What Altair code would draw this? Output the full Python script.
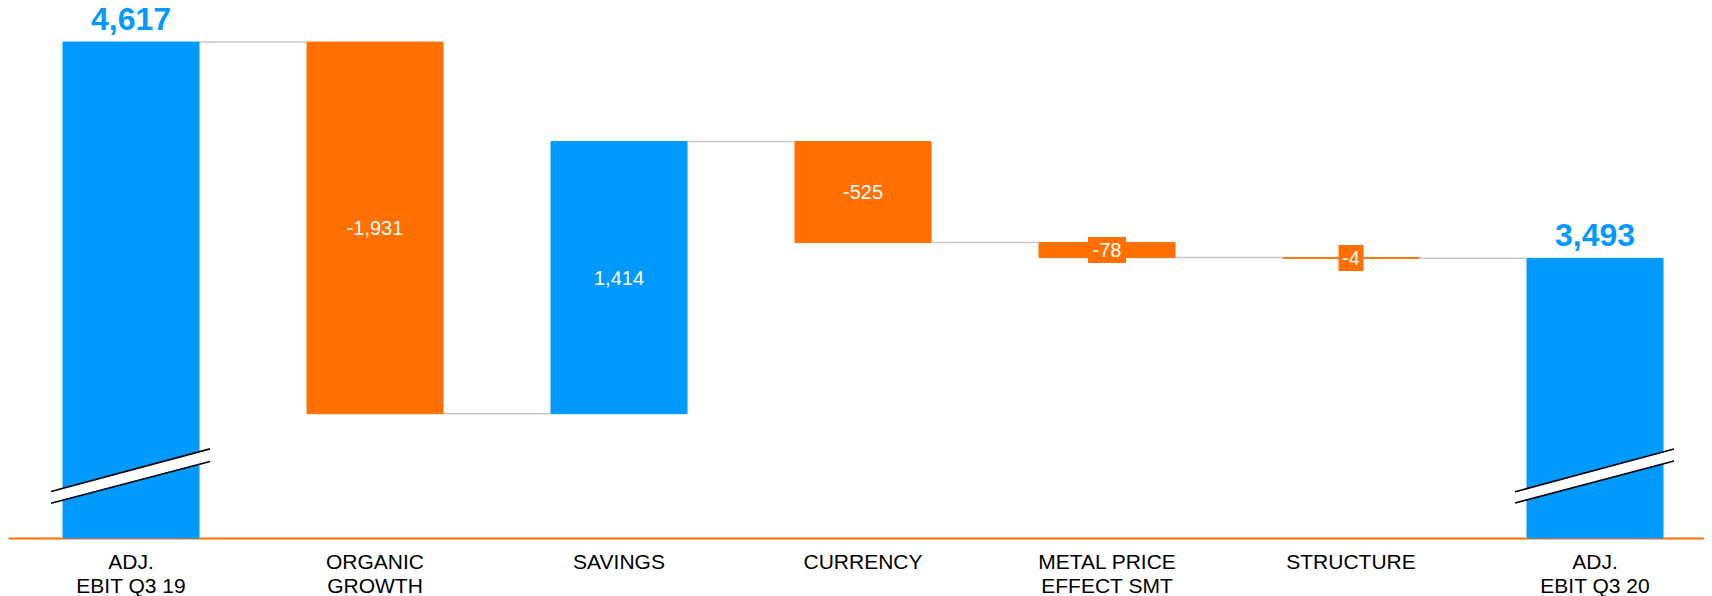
import altair as alt
import pandas as pd

# ---------------- data ----------------
categories = [
    "ADJ.|EBIT Q3 19",
    "ORGANIC| GROWTH",
    "SAVINGS",
    "CURRENCY",
    "METAL PRICE|EFFECT SMT",
    "STRUCTURE",
    "ADJ.|EBIT Q3 20",
]
values = [4617, -1931, 1414, -525, -78, -4, 3493]
is_total = [True, False, False, False, False, False, True]

# broken value axis: visible range of the value scale
axis_floor = 2040
axis_ceiling = 4794

# axis-break marks drawn across the two total bars (value levels at left / right end)
break_categories = [categories[0], categories[6]]
break_upper_left = [2282, 2280]
break_upper_right = [2503, 2502]
break_lower_left = [2221, 2222]
break_lower_right = [2438, 2440]

# ---------------- styles ----------------
blue = "#0099FF"
orange = "#FF7000"
grey = "#C8C8C8"
font = "Liberation Sans"

# ---------------- derived tables ----------------
rows = []
running = 0
for cat, v, tot in zip(categories, values, is_total):
    if tot:
        start, end = 0, v
    else:
        start, end = running, running + v
    running = end
    rows.append(dict(cat=cat, start=start, end=end, mid=(start + end) / 2,
                     label=f"{v:,}", tone="rise" if v > 0 else "fall", total=tot))
df = pd.DataFrame(rows)

conn_df = pd.DataFrame({
    "cat": categories[:-1],
    "nxt": categories[1:],
    "level": [r["end"] for r in rows[:-1]],
})

break_df = pd.DataFrame({
    "cat": break_categories,
    "ul": break_upper_left, "ur": break_upper_right,
    "ll": break_lower_left, "lr": break_lower_right,
})
break_df["ml"] = (break_df["ul"] + break_df["ll"]) / 2
break_df["mr"] = (break_df["ur"] + break_df["lr"]) / 2

# ---------------- scales / axes ----------------
xscale = alt.Scale(domain=categories, paddingInner=0.4426, paddingOuter=0.1967, align=0.573)
yscale = alt.Scale(domain=[axis_floor, axis_ceiling], clamp=True, nice=False, zero=False)
x_axis = alt.Axis(
    title=None, labelExpr="split(datum.label, '|')", labelAngle=0,
    labelFont=font, labelFontSize=21, labelColor="#000000", labelLineHeight=24,
    labelPadding=13, ticks=False, domainColor=orange, domainWidth=2, grid=False,
    labelBaseline="top",
)


def X(bp=None):
    if bp is None:
        return alt.X("cat:N", scale=xscale, axis=x_axis)
    return alt.X("cat:N", scale=xscale, axis=x_axis, bandPosition=bp)


def Y(field):
    return alt.Y(field, scale=yscale, axis=None)


tone_scale = alt.Scale(domain=["rise", "fall"], range=[blue, orange])

connectors = alt.Chart(conn_df).mark_rule(color=grey, strokeWidth=1.5).encode(
    x=X(1), x2=alt.X2("nxt", bandPosition=0), y=Y("level:Q")
)

bars = alt.Chart(df).mark_bar(strokeWidth=1).encode(
    x=X(),
    y=Y("start:Q"),
    y2="end:Q",
    color=alt.Color("tone:N", scale=tone_scale, legend=None),
    stroke=alt.Stroke("tone:N", scale=tone_scale, legend=None),
)

break_white = alt.Chart(break_df).mark_rule(
    color="white", strokeWidth=11, strokeCap="butt", xOffset=-12, x2Offset=11
).encode(x=X(0), x2=alt.X2("cat", bandPosition=1), y=Y("ml:Q"), y2="mr:Q")

break_upper = alt.Chart(break_df).mark_rule(
    color="black", strokeWidth=1.6, xOffset=-12, x2Offset=11
).encode(x=X(0), x2=alt.X2("cat", bandPosition=1), y=Y("ul:Q"), y2="ur:Q")

break_lower = alt.Chart(break_df).mark_rule(
    color="black", strokeWidth=1.6, xOffset=-12, x2Offset=11
).encode(x=X(0), x2=alt.X2("cat", bandPosition=1), y=Y("ll:Q"), y2="lr:Q")

box_metal = alt.Chart(df).transform_filter(alt.datum.cat == categories[4]).mark_rule(
    color=orange, strokeWidth=26, xOffset=-19, x2Offset=19
).encode(x=X(0.5), x2=alt.X2("cat", bandPosition=0.5), y=Y("mid:Q"))

box_structure = alt.Chart(df).transform_filter(alt.datum.cat == categories[5]).mark_rule(
    color=orange, strokeWidth=26, xOffset=-12.5, x2Offset=12.5
).encode(x=X(0.5), x2=alt.X2("cat", bandPosition=0.5), y=Y("mid:Q"))

inner_labels = alt.Chart(df).transform_filter(alt.datum.total == False).mark_text(
    color="white", font=font, fontSize=20, baseline="middle", align="center", dy=1
).encode(x=X(), y=Y("mid:Q"), text="label:N")

total_labels = alt.Chart(df).transform_filter(alt.datum.total == True).mark_text(
    color=blue, font=font, fontSize=32, fontWeight="bold", baseline="alphabetic",
    align="center", dy=-12
).encode(x=X(), y=Y("end:Q"), text="label:N")

chart = alt.layer(
    connectors, bars, break_white, break_upper, break_lower,
    box_metal, box_structure, inner_labels, total_labels,
).properties(
    width=1696, height=530,
    padding={"left": 0, "right": 0, "top": 0, "bottom": 58},
    autosize=alt.AutoSizeParams(type="none"),
).configure_view(stroke=None)

chart.save("out.html", embed_options={"renderer": "svg", "actions": False})
